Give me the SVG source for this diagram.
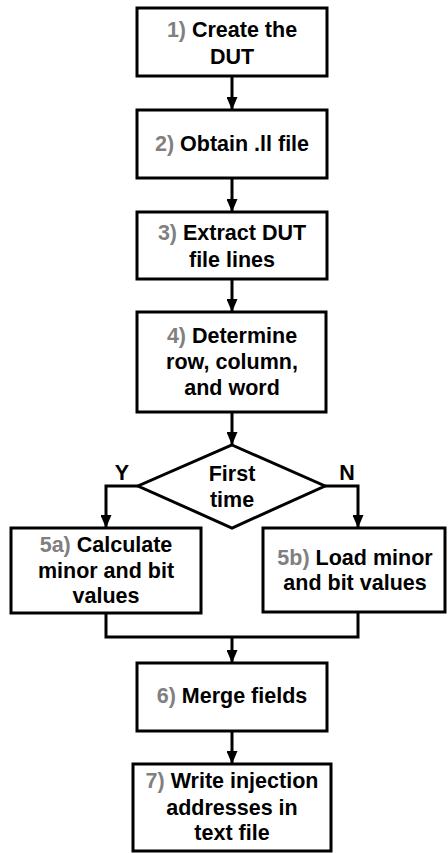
<svg xmlns="http://www.w3.org/2000/svg" width="448" height="853" viewBox="0 0 448 853">
<style>
.box{fill:#fff;stroke:#000;stroke-width:3}
.t{font-family:"Liberation Sans",Arial,sans-serif;font-weight:bold;font-size:21.5px;fill:#000;text-anchor:middle}
.n{fill:#808080}
.c{fill:none;stroke:#000;stroke-width:3}
</style>
<defs>
<marker id="ah" viewBox="0 0 13 11" refX="13" refY="5.5" markerWidth="13" markerHeight="11" markerUnits="userSpaceOnUse" orient="auto">
<path d="M0,0 L13,5.5 L0,11 Z" fill="#000"/>
</marker>
</defs>
<rect width="448" height="853" fill="#fff"/>
<g id="connectors">
<line class="c" x1="232" y1="76" x2="232" y2="110" marker-end="url(#ah)"/>
<line class="c" x1="232" y1="178" x2="232" y2="212" marker-end="url(#ah)"/>
<line class="c" x1="232" y1="279" x2="232" y2="312" marker-end="url(#ah)"/>
<line class="c" x1="232" y1="412" x2="232" y2="445" marker-end="url(#ah)"/>
<polyline class="c" points="138,486 106,486 106,528" marker-end="url(#ah)"/>
<polyline class="c" points="325,486 358,486 358,528" marker-end="url(#ah)"/>
<polyline class="c" points="106,613 106,637 358,637 358,612"/>
<line class="c" x1="232" y1="637" x2="232" y2="663" marker-end="url(#ah)"/>
<line class="c" x1="232" y1="731" x2="232" y2="764" marker-end="url(#ah)"/>
<text class="t" x="122" y="480">Y</text>
<text class="t" x="347" y="480">N</text>
</g>
<g id="n1">
<rect class="box" x="137" y="8" width="190" height="68"/>
<text class="t" x="232" y="37"><tspan class="n">1)</tspan> Create the</text>
<text class="t" x="232" y="64">DUT</text>
</g>
<g id="n2">
<rect class="box" x="137" y="110" width="190" height="68"/>
<text class="t" x="232" y="151"><tspan class="n">2)</tspan> Obtain .ll file</text>
</g>
<g id="n3">
<rect class="box" x="137" y="212" width="190" height="67"/>
<text class="t" x="232" y="240"><tspan class="n">3)</tspan> Extract DUT</text>
<text class="t" x="232" y="267">file lines</text>
</g>
<g id="n4">
<rect class="box" x="137" y="312" width="189" height="100"/>
<text class="t" x="232" y="343"><tspan class="n">4)</tspan> Determine</text>
<text class="t" x="232" y="369">row, column,</text>
<text class="t" x="232" y="395">and word</text>
</g>
<g id="d1">
<polygon class="box" points="232,445 325,486 232,528 138,486"/>
<text class="t" x="232" y="481">First</text>
<text class="t" x="232" y="507">time</text>
</g>
<g id="n5a">
<rect class="box" x="11" y="528" width="190" height="85"/>
<text class="t" x="106" y="552"><tspan class="n">5a)</tspan> Calculate</text>
<text class="t" x="106" y="578">minor and bit</text>
<text class="t" x="106" y="603">values</text>
</g>
<g id="n5b">
<rect class="box" x="263" y="528" width="182" height="84"/>
<text class="t" x="355" y="565"><tspan class="n">5b)</tspan> Load minor</text>
<text class="t" x="355" y="590">and bit values</text>
</g>
<g id="n6">
<rect class="box" x="137" y="663" width="190" height="68"/>
<text class="t" x="232" y="703"><tspan class="n">6)</tspan> Merge fields</text>
</g>
<g id="n7">
<rect class="box" x="133" y="764" width="198" height="87"/>
<text class="t" x="232" y="788"><tspan class="n">7)</tspan> Write injection</text>
<text class="t" x="232" y="815">addresses in</text>
<text class="t" x="232" y="840">text file</text>
</g>
</svg>
